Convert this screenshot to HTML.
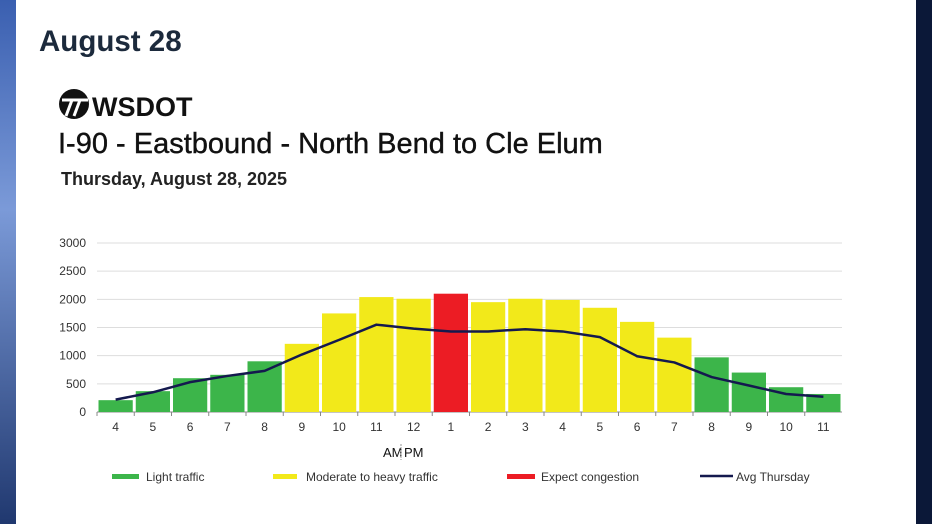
<!DOCTYPE html>
<html><head><meta charset="utf-8">
<style>
body{margin:0;width:932px;height:524px;overflow:hidden;background:#0b1838;font-family:"Liberation Sans",sans-serif;}
#bgl{position:absolute;left:0;top:0;width:16px;height:524px;background:linear-gradient(180deg,#3a5fb0,#7b9ad8 40%,#20386f);}
#card{position:absolute;left:16px;top:0;width:900px;height:524px;background:#fff;}
svg{position:absolute;left:0;top:0;}
</style></head><body>
<div id="bgl"></div>
<div id="card"></div>
<svg width="932" height="524">
<text x="39" y="51" font-size="29.5" font-weight="bold" fill="#1c2a3c">August 28</text>
<g>
<circle cx="74" cy="104" r="15" fill="#111"/>
<path d="M62 100 L88 100 M72 100 L66 116 M80 100 L74 116" stroke="#fff" stroke-width="3"/>
<text x="92" y="116" font-size="27" font-weight="bold" fill="#111">WSDOT</text>
</g>
<text x="58" y="153" font-size="29" fill="#111" stroke="#111" stroke-width="0.4">I-90 - Eastbound - North Bend to Cle Elum</text>
<text x="61" y="185" font-size="18" font-weight="bold" fill="#222">Thursday, August 28, 2025</text>
<g id="grid"></g><g id="bars"></g><g id="line"></g><g id="axes"></g>
<text x="383" y="457" font-size="13" fill="#111">AM</text>
<line x1="401" y1="444" x2="401" y2="460" stroke="#999" stroke-dasharray="2,1"/>
<text x="404" y="457" font-size="13" fill="#111">PM</text>
<g font-size="12" fill="#333">
<rect x="112" y="474" width="27" height="5" fill="#3cb54a"/>
<text x="146" y="481">Light traffic</text>
<rect x="273" y="474" width="24" height="5" fill="#f2e91a"/>
<text x="306" y="481">Moderate to heavy traffic</text>
<rect x="507" y="474" width="28" height="5" fill="#ec1c24"/>
<text x="541" y="481">Expect congestion</text>
<line x1="700" y1="476" x2="733" y2="476" stroke="#14194e" stroke-width="2.5"/>
<text x="736" y="481">Avg Thursday</text>
</g>
</svg>
<script>
const categories=["4","5","6","7","8","9","10","11","12","1","2","3","4","5","6","7","8","9","10","11"];
const volumes=[210,370,600,660,900,1210,1750,2040,2010,2100,1950,2010,1990,1850,1600,1320,970,700,440,320];
const levels=["light","light","light","light","light","mod","mod","mod","mod","cong","mod","mod","mod","mod","mod","mod","light","light","light","light"];
const avgThursday=[220,350,530,640,730,1020,1280,1550,1480,1430,1430,1470,1430,1330,990,880,620,470,320,270];
const yTicks=[0,500,1000,1500,2000,2500,3000];
const NS="http://www.w3.org/2000/svg";
const x0=97,x1=842,y0=412,yTop=243,ymax=3000;
const bw=(x1-x0)/categories.length;
const y=v=>y0-(v/ymax)*(y0-yTop);
const xc=i=>x0+bw*(i+0.5);
const colors={light:"#3cb54a",mod:"#f2e91a",cong:"#ec1c24"};
function mk(t,a,p){const e=document.createElementNS(NS,t);for(const k in a)e.setAttribute(k,a[k]);p.appendChild(e);return e;}
const grid=document.getElementById('grid'),bars=document.getElementById('bars'),line=document.getElementById('line'),axes=document.getElementById('axes');
yTicks.forEach(v=>{
 const l=mk('line',{x1:x0,x2:x1,y1:y(v),y2:y(v),stroke:v?"#ddd":"#888","stroke-width":1},grid);
 
 
 const t=mk('text',{x:86,y:y(v)+4,"text-anchor":"end","font-size":12,fill:"#333"},axes);
 t.textContent=v;
 
 
});
categories.forEach((c,i)=>{
 const r=mk('rect',{x:x0+bw*i+1.5,y:y(volumes[i]),width:bw-3,height:y0-y(volumes[i]),fill:colors[levels[i]]},bars);
 
 
 const tk=mk('line',{x1:x0+bw*i,x2:x0+bw*i,y1:y0,y2:y0+4,stroke:"#888"},axes);
 
 
 const t=mk('text',{x:xc(i),y:y0+19,"text-anchor":"middle","font-size":12,fill:"#333"},axes);
 t.textContent=c;
 
 
});
const p=mk('path',{d:avgThursday.map((v,i)=>(i?'L':'M')+xc(i)+' '+y(v)).join(' '),fill:"none",stroke:"#14194e","stroke-width":2.5,"stroke-linejoin":"round"},line);


</script>
</body></html>
